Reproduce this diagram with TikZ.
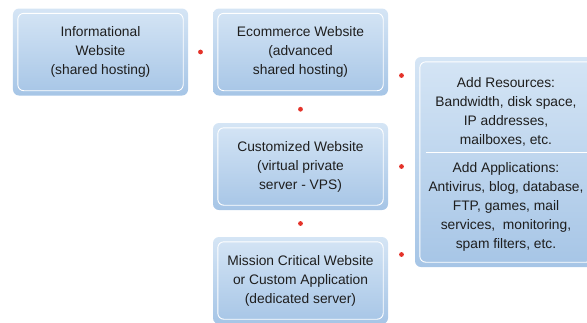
\documentclass[tikz,border=0pt]{standalone}
\usepackage{fontspec}
\setmainfont{Liberation Sans}
\usetikzlibrary{calc}
\definecolor{boxtop}{HTML}{D5E5F5}
\definecolor{boxbot}{HTML}{A6C5E6}
\definecolor{dotred}{HTML}{E4332A}
\definecolor{txt}{HTML}{1E1E1E}

\begin{document}
\begin{tikzpicture}[x=1bp,y=-1bp,
  tier/.style={rectangle, rounded corners=6bp, top color=boxtop, bottom color=boxbot,
    draw=none, minimum width=175bp, minimum height=87bp, inner sep=0pt,
    align=center, text=txt, font=\fontsize{13.8bp}{19bp}\selectfont},
  label text/.style={align=center, text=txt, inner sep=0pt,
    font=\fontsize{13.8bp}{19bp}\selectfont},
  inner rim/.style={draw=white, line width=0.9bp, rounded corners=6bp},
  dot/.style={fill=dotred}
]
\useasboundingbox (0,0) rectangle (587,322);
\clip (0,0) rectangle (587,322);

% hosting tiers
\node[tier] (info)  at (100.5,52) {Informational\\Website\\(shared hosting)};
\node[tier] (ecom)  at (300.5,52) {Ecommerce Website\\(advanced\\shared hosting)};
\node[tier] (vps)   at (300.5,166.5)  {Customized Website\\(virtual private\\server - VPS)};
\node[tier] (ded)   at (300.5,280.5)  {Mission Critical Website\\or Custom Application\\(dedicated server)};

% add-ons panel
\node[tier, minimum width=182bp, minimum height=210bp] (extras) at (506,162) {};
\node[label text] (res)  at (506,111.5)
  {Add Resources:\\Bandwidth, disk space,\\IP addresses,\\mailboxes, etc.};
\node[label text] (apps) at (506,207)
  {Add Applications:\\Antivirus, blog, database,\\FTP, games, mail\\services,~ monitoring,\\spam filters, etc.};

% white inner rims
\foreach \n in {info,ecom,vps,ded,extras}
  \draw[inner rim] ([shift={(5,5)}]\n.north west) rectangle ([shift={(-5,-5)}]\n.south east);
\draw[white, line width=0.9bp] ($(extras.west)+(11,-10)$) -- ($(extras.east)+(0,-10)$);

% red markers between the tiers
\fill[dot] ($(info.east)!.5!(ecom.west)$) circle (2.4bp);
\fill[dot] ($(ecom.south)!.5!(vps.north)$) circle (2.4bp);
\fill[dot] ($(vps.south)!.5!(ded.north)$) circle (2.4bp);
\fill[dot] ($(ecom.east)!.5!(extras.west |- ecom.east)+(0,23.5)$) circle (2.4bp);
\fill[dot] ($(vps.east)!.5!(extras.west |- vps.east)$) circle (2.4bp);
\fill[dot] ($(ded.east)!.5!(extras.west |- ded.east)+(0,-26)$) circle (2.4bp);
\end{tikzpicture}
\end{document}
